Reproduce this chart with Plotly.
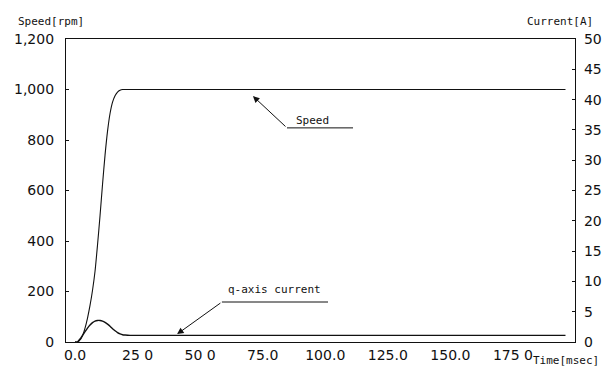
import plotly.graph_objects as go

# ---- data ----
time_ms = [0, 1, 2, 3, 4, 5, 6, 7, 8, 9, 10, 11, 12, 13, 14, 15, 16, 17, 18, 19, 20, 22, 25, 30, 50, 100, 150, 196]
speed_rpm = [0, 0, 8, 25, 55, 95, 145, 205, 280, 385, 500, 625, 740, 835, 905, 950, 975, 990, 997, 1000,
             1000, 1000, 1000, 1000, 1000, 1000, 1000, 1000]
q_current_a = [0, 0, 0.5, 1.1, 1.7, 2.3, 2.8, 3.2, 3.45, 3.55, 3.55, 3.45, 3.25, 2.95, 2.6, 2.2, 1.85, 1.55,
               1.35, 1.2, 1.15, 1.1, 1.1, 1.1, 1.1, 1.1, 1.1, 1.1]

x_tickvals = [0, 25, 50, 75, 100, 125, 150, 175]
x_ticktext = ["0.0", "25 0", "50 0", "75.0", "100.0", "125.0", "150.0", "175 0"]
speed_tickvals = [0, 200, 400, 600, 800, 1000, 1200]
speed_ticktext = ["0", "200", "400", "600", "800", "1,000", "1,200"]
current_tickvals = [0, 5, 10, 15, 20, 25, 30, 35, 40, 45, 50]

FONT = "DejaVu Sans"
MONO = "DejaVu Sans Mono"
INK = "#111111"

fig = go.Figure()
fig.add_trace(go.Scatter(x=time_ms, y=speed_rpm, mode="lines", line=dict(color=INK, width=1.1, shape="spline", smoothing=0.6),
                         name="Speed", yaxis="y"))
fig.add_trace(go.Scatter(x=time_ms, y=q_current_a, mode="lines", line=dict(color=INK, width=1.4, shape="spline", smoothing=0.6),
                         name="q-axis current", yaxis="y2"))

fig.update_layout(
    template="none",
    width=608, height=368,
    margin=dict(l=66, r=33, t=39, b=26, autoexpand=False),
    paper_bgcolor="white", plot_bgcolor="white",
    showlegend=False,
    font=dict(family=FONT, color=INK, size=14),
    xaxis=dict(range=[-3.6, 199.8], tickvals=x_tickvals, ticktext=x_ticktext, showgrid=False, zeroline=False,
               showline=True, linecolor=INK, linewidth=1.2, mirror=True, ticks="", ticklabelstandoff=0,
               automargin=False, tickfont=dict(size=14, family=FONT, color=INK)),
    yaxis=dict(range=[0, 1200], tickvals=speed_tickvals, ticktext=speed_ticktext, showgrid=False, zeroline=False,
               showline=True, linecolor=INK, linewidth=1.2, ticks="inside", ticklen=3, tickcolor=INK,
               ticklabelstandoff=8, automargin=False, tickfont=dict(size=14, family=FONT, color=INK)),
    yaxis2=dict(range=[0, 50], tickvals=current_tickvals, overlaying="y", side="right", showgrid=False, zeroline=False,
                showline=True, linecolor=INK, linewidth=1.2, ticks="inside", ticklen=3, tickcolor=INK,
                ticklabelstandoff=5, automargin=False, tickfont=dict(size=14, family=FONT, color=INK)),
)

# axis titles
fig.add_annotation(text="Speed[rpm]", xref="paper", yref="paper", x=-0.098, y=1.059, xanchor="left", yanchor="middle",
                   showarrow=False, font=dict(size=11, family=MONO, color=INK))
fig.add_annotation(text="Current[A]", xref="paper", yref="paper", x=1.04, y=1.059, xanchor="right", yanchor="middle",
                   showarrow=False, font=dict(size=11, family=MONO, color=INK))
fig.add_annotation(text="Time[msec]", xref="paper", yref="paper", x=1.052, y=-0.032, xanchor="right", yanchor="top",
                   showarrow=False, font=dict(size=11, family=MONO, color=INK))

# Speed label with leader arrow
fig.add_annotation(text="Speed", x=95.1, y=879, xref="x", yref="y", showarrow=False,
                   font=dict(size=11, family=MONO, color=INK))
fig.add_annotation(x=71.1, y=974, ax=84.7, ay=848, xref="x", yref="y", axref="x", ayref="y", text="",
                   showarrow=True, arrowhead=2, arrowsize=1.3, arrowwidth=1, arrowcolor=INK)
fig.add_shape(type="line", x0=84.7, x1=111.1, y0=848, y1=848, xref="x", yref="y", line=dict(color=INK, width=1))

# q-axis current label with leader arrow
fig.add_annotation(text="q-axis current", x=79.9, y=8.6, xref="x", yref="y2", showarrow=False,
                   font=dict(size=11, family=MONO, color=INK))
fig.add_annotation(x=40.8, y=1.3, ax=58.7, ay=6.6, xref="x", yref="y2", axref="x", ayref="y2", text="",
                   showarrow=True, arrowhead=2, arrowsize=1.3, arrowwidth=1, arrowcolor=INK)
fig.add_shape(type="line", x0=58.7, x1=101.1, y0=6.6, y1=6.6, xref="x", yref="y2", line=dict(color=INK, width=1))

fig.write_html("out.html", config={"displayModeBar": False},
               post_script="document.body.style.margin='0';document.body.style.overflow='hidden';")
